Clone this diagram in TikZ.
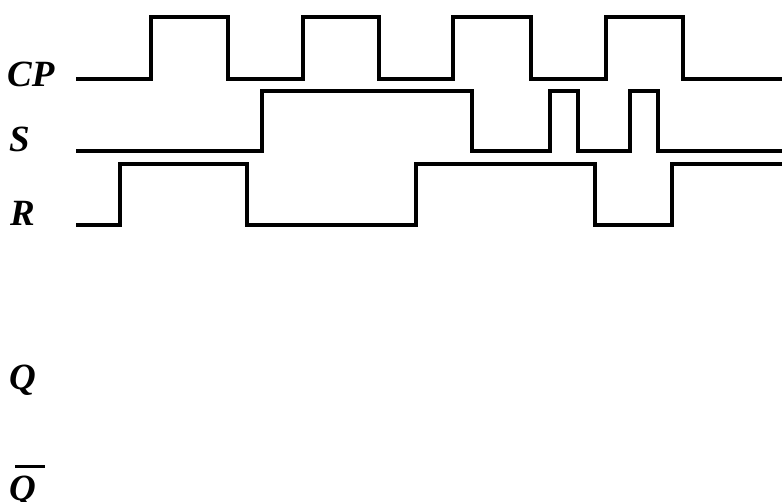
\documentclass[tikz,border=0pt]{standalone}
\usepackage{fontspec}
\setmainfont{Liberation Serif}
\begin{document}
\begin{tikzpicture}[x=1pt,y=-1pt,
  wave/.style={line width=3.6pt,line join=miter,line cap=butt},
  lbl/.style={anchor=base west,inner sep=0pt,font=\fontsize{37}{42}\selectfont\bfseries\itshape}]
\useasboundingbox (0,0) rectangle (784,502);
% labels
\node[lbl] (cp) at (7,87) {CP};
\node[lbl] (s) at (9,152) {S};
\node[lbl] (r) at (10,226) {R};
\node[lbl] (q) at (9,389) {Q};
\node[lbl] (qb) at (9,500) {Q};
\draw[line width=3pt] (15,466) -- (45,466);
% CP
\draw[wave] (76,79) -- (151,79) -- (151,17) -- (228,17) -- (228,79) -- (303,79) -- (303,17) -- (379,17) -- (379,79)
  -- (453,79) -- (453,17) -- (531,17) -- (531,79) -- (606,79) -- (606,17) -- (683,17) -- (683,79) -- (782,79);
% S
\draw[wave] (76,151) -- (262,151) -- (262,91) -- (472,91) -- (472,151) -- (550,151) -- (550,91) -- (578,91) -- (578,151)
  -- (630,151) -- (630,91) -- (658,91) -- (658,151) -- (782,151);
% R
\draw[wave] (76,225) -- (120,225) -- (120,164) -- (247,164) -- (247,225) -- (416,225) -- (416,164) -- (595,164) -- (595,225)
  -- (672,225) -- (672,164) -- (782,164);
\end{tikzpicture}
\end{document}
